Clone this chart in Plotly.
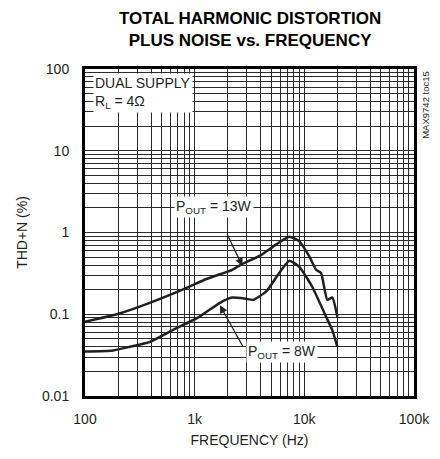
import plotly.graph_objects as go

# 13W curve (upper)
freq_13w = [100, 195, 390, 846, 1280, 2200, 2600, 4100, 5500, 7300, 9000,
            11100, 12800, 14200, 16200, 18000, 20000]
thd_13w = [0.081, 0.10, 0.138, 0.21, 0.27, 0.35, 0.40, 0.537, 0.71, 0.89, 0.78,
           0.51, 0.35, 0.32, 0.15, 0.16, 0.093]

# 8W curve (lower)
freq_8w = [100, 180, 257, 390, 630, 1100, 1700, 2200, 2900, 3400, 4500, 5900,
           7300, 9000, 11800, 15800, 18000, 20000]
thd_8w = [0.035, 0.036, 0.040, 0.046, 0.064, 0.093, 0.138, 0.16, 0.155, 0.15,
          0.19, 0.32, 0.45, 0.38, 0.217, 0.093, 0.064, 0.040]

x_tickvals = [100, 1000, 10000, 100000]
x_ticktext = ["100", "1k", "10k", "100k"]
y_tickvals = [0.01, 0.1, 1, 10, 100]
y_ticktext = ["0.01", "0.1", "1", "10", "100"]

FONT = "Liberation Sans, Arial, sans-serif"
LINE = "#231f20"
GRID = "#2a2a2a"

fig = go.Figure()

fig.add_trace(go.Scatter(x=freq_13w, y=thd_13w, mode="lines",
                         line=dict(color=LINE, width=2.5, shape="spline", smoothing=0.5),
                         showlegend=False))
fig.add_trace(go.Scatter(x=freq_8w, y=thd_8w, mode="lines",
                         line=dict(color=LINE, width=2.5, shape="spline", smoothing=0.5),
                         showlegend=False))

# title (two lines, as annotation so it stays inside the page)
fig.add_annotation(
    text="<b>TOTAL HARMONIC DISTORTION<br>PLUS NOISE vs. FREQUENCY</b>",
    xref="paper", yref="paper", x=0.5, y=1.19, xanchor="center", yanchor="top",
    showarrow=False, font=dict(family=FONT, size=17, color="black"),
)

# legend-like box top left
fig.add_annotation(
    text="DUAL SUPPLY<br>R<sub>L</sub> = 4Ω",
    xref="paper", yref="paper", x=0.025, y=0.988,
    xanchor="left", yanchor="top", align="left", showarrow=False,
    bgcolor="white", font=dict(family=FONT, size=14, color=LINE),
)

# curve labels
fig.add_annotation(
    text="P<sub>OUT</sub> = 13W", x=3.18, y=0.318, xref="x", yref="y",
    showarrow=False, bgcolor="white", font=dict(family=FONT, size=14, color=LINE),
)
fig.add_annotation(
    x=3.436, y=-0.409, xref="x", yref="y", ax=-16, ay=-33,
    showarrow=True, arrowhead=2, arrowsize=1.2, arrowwidth=1.3, arrowcolor=LINE, text="",
)
fig.add_annotation(
    text="P<sub>OUT</sub> = 8W", x=3.80, y=-1.456, xref="x", yref="y",
    showarrow=False, bgcolor="white", font=dict(family=FONT, size=14, color=LINE),
)
fig.add_annotation(
    x=3.23, y=-0.89, xref="x", yref="y", ax=24, ay=43,
    showarrow=True, arrowhead=2, arrowsize=1.2, arrowwidth=1.3, arrowcolor=LINE, text="",
)

# figure id on the right
fig.add_annotation(
    text="MAX9742 toc15", xref="paper", yref="paper", x=1.01, y=1.0,
    xanchor="left", yanchor="top", textangle=-90, showarrow=False,
    font=dict(family=FONT, size=9.5, color=LINE),
)

fig.update_layout(
    width=432, height=451,
    margin=dict(l=77, r=26, t=61, b=63, autoexpand=False),
    paper_bgcolor="white", plot_bgcolor="white",
    font=dict(family=FONT, size=14, color=LINE),
    xaxis=dict(
        type="log", range=[2, 5], tickvals=x_tickvals, ticktext=x_ticktext,
        showgrid=True, gridcolor=GRID, gridwidth=1.2,
        minor=dict(dtick="D1", showgrid=True, gridcolor=GRID, gridwidth=1.2),
        showline=True, linecolor="black", linewidth=3, mirror=True,
        ticks="", ticklabelstandoff=8, automargin=False,
        title=dict(text="FREQUENCY (Hz)", font=dict(size=14), standoff=10),
        zeroline=False,
    ),
    yaxis=dict(
        type="log", range=[-2, 2], tickvals=y_tickvals, ticktext=y_ticktext,
        showgrid=True, gridcolor=GRID, gridwidth=1.2,
        minor=dict(dtick="D1", showgrid=True, gridcolor=GRID, gridwidth=1.2),
        showline=True, linecolor="black", linewidth=3, mirror=True,
        ticks="", ticklabelstandoff=10, automargin=False,
        title=dict(text="THD+N (%)", font=dict(size=14), standoff=12),
        zeroline=False,
    ),
)

fig.write_html("out.html")
